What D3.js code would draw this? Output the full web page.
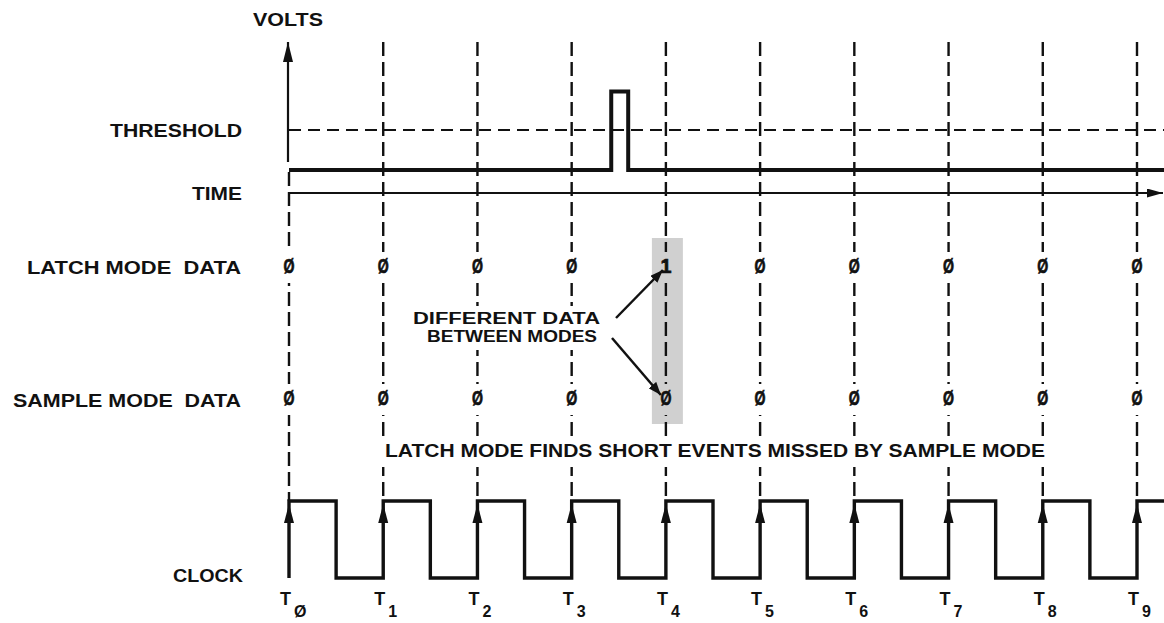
<!DOCTYPE html>
<html>
<head>
<meta charset="utf-8">
<script src="https://cdn.jsdelivr.net/npm/d3@7"></script>
<style>
  html, body { margin: 0; padding: 0; background: #fff; }
  svg { display: block; }
  text { font-family: "Liberation Sans", Arial, sans-serif; font-weight: bold; fill: #111; white-space: pre; }
</style>
</head>
<body>
<svg id="chart" width="1164" height="623"></svg>
<script>
// ---- data ----
const tickSubs = ["Ø", "1", "2", "3", "4", "5", "6", "7", "8", "9"];
const latchData = ["Ø", "Ø", "Ø", "Ø", "1", "Ø", "Ø", "Ø", "Ø", "Ø"];
const sampleData = ["Ø", "Ø", "Ø", "Ø", "Ø", "Ø", "Ø", "Ø", "Ø", "Ø"];
const highlightIndex = 4;
// input signal (time in clock periods, volts in arbitrary units)
const signalTimes = [0, 3.42, 3.42, 3.6, 3.6, 9.3];
const signalVolts = [0, 0, 2.45, 2.45, 0, 0];
const thresholdVolts = 1.25;
// clock waveform
const clockTimes = [0, 0, 0.5, 1, 1.5, 2, 2.5, 3, 3.5, 4, 4.5, 5, 5.5, 6, 6.5, 7, 7.5, 8, 8.5, 9, 9.3];
const clockLevels = [0, 1, 0, 1, 0, 1, 0, 1, 0, 1, 0, 1, 0, 1, 0, 1, 0, 1, 0, 1, 1];
const rowLabels = ["VOLTS", "THRESHOLD", "TIME", "LATCH MODE  DATA", "SAMPLE MODE  DATA", "CLOCK"];
const noteLines = ["DIFFERENT DATA", "BETWEEN MODES"];
const footNote = "LATCH MODE FINDS SHORT EVENTS MISSED BY SAMPLE MODE";

// ---- scales ----
const svg = d3.select("#chart");
const x = d3.scaleLinear().domain([0, 9]).range([289, 1137]);
const yV = d3.scaleLinear().domain([0, 4]).range([170, 42]);
const yC = d3.scaleLinear().domain([0, 1]).range([578, 501]);
const yTime = 193;
const latchY = 273, sampleY = 405;
const ink = "#111";
const shade = "#d0d0d0";

const defs = svg.append("defs");
function marker(id, len, hw) {
  defs.append("marker").attr("id", id)
    .attr("viewBox", `0 ${-hw} ${len} ${2 * hw}`)
    .attr("refX", len).attr("refY", 0)
    .attr("markerWidth", len).attr("markerHeight", 2 * hw)
    .attr("markerUnits", "userSpaceOnUse")
    .attr("orient", "auto")
    .append("path").attr("d", `M0,${-hw}L${len},0L0,${hw}Z`).attr("fill", ink);
}
marker("arrowBig", 20, 5);
marker("arrowSmall", 16, 4.5);
marker("arrowNote", 13, 5);

// highlight column
svg.append("rect")
  .attr("x", x(highlightIndex) - 14).attr("width", 31)
  .attr("y", 238).attr("height", sampleY + 19 - 238)
  .attr("fill", shade);

// vertical dashed grid lines
svg.append("g").selectAll("line").data(d3.range(10)).join("line")
  .attr("x1", d => x(d)).attr("x2", d => x(d))
  .attr("y1", d => d === 0 ? 172 : yV(4))
  .attr("y2", yC(1))
  .attr("stroke", ink).attr("stroke-width", 2.4)
  .attr("stroke-dasharray", "14,6");

// threshold
svg.append("line")
  .attr("x1", x(0)).attr("x2", 1164)
  .attr("y1", yV(thresholdVolts)).attr("y2", yV(thresholdVolts))
  .attr("stroke", ink).attr("stroke-width", 2).attr("stroke-dasharray", "12,7");

// volts axis
svg.append("line")
  .attr("x1", x(0) - 1).attr("x2", x(0) - 1)
  .attr("y1", 162).attr("y2", yV(4))
  .attr("stroke", ink).attr("stroke-width", 2.2)
  .attr("marker-end", "url(#arrowBig)");

// time axis
svg.append("line")
  .attr("x1", x(0) - 1).attr("x2", 1163)
  .attr("y1", yTime).attr("y2", yTime)
  .attr("stroke", ink).attr("stroke-width", 1.8)
  .attr("marker-end", "url(#arrowSmall)");

// signal
const sigPts = signalTimes.map((t, i) => [t, signalVolts[i]]);
svg.append("path")
  .attr("d", d3.line().x(d => x(d[0])).y(d => yV(d[1]))(sigPts))
  .attr("fill", "none").attr("stroke", ink).attr("stroke-width", 4)
  .attr("stroke-linejoin", "miter");

// clock
const clkPts = clockTimes.map((t, i) => [t, clockLevels[i]]);
svg.append("path")
  .attr("d", d3.line().curve(d3.curveStepAfter).x(d => x(d[0])).y(d => yC(d[1]))(clkPts))
  .attr("fill", "none").attr("stroke", ink).attr("stroke-width", 3.4);

// clock rising-edge arrows
svg.append("g").selectAll("path").data(d3.range(10)).join("path")
  .attr("d", d => {
    const cx = x(d), tip = yC(1) + 3;
    return `M${cx},${tip}L${cx - 5},${tip + 19}L${cx + 5},${tip + 19}Z`;
  })
  .attr("fill", ink);

// data labels with background masks
function dataRow(values, yBase) {
  const g = svg.append("g");
  g.selectAll("rect").data(values).join("rect")
    .attr("x", (d, i) => x(i) - 7).attr("width", 14)
    .attr("y", yBase - 21).attr("height", 31)
    .attr("fill", (d, i) => i === highlightIndex ? shade : "#fff");
  g.selectAll("text").data(values).join("text")
    .attr("x", (d, i) => x(i) - 5.5).attr("y", yBase)
    .attr("textLength", 11).attr("lengthAdjust", "spacingAndGlyphs")
    .attr("font-size", 20)
    .attr("stroke", ink).attr("stroke-width", 0.7)
    .text(d => d);
}
dataRow(latchData, latchY);
dataRow(sampleData, sampleY);

// annotation background + text
svg.append("rect").attr("x", 410).attr("y", 306).attr("width", 196).attr("height", 44).attr("fill", "#fff");
const noteGeo = [[413, 324, 187], [427, 342, 170]];
svg.append("g").selectAll("text").data(noteLines).join("text")
  .attr("x", (d, i) => noteGeo[i][0]).attr("y", (d, i) => noteGeo[i][1])
  .attr("textLength", (d, i) => noteGeo[i][2]).attr("lengthAdjust", "spacingAndGlyphs")
  .attr("font-size", 16).text(d => d);

// annotation arrows
svg.append("line").attr("x1", 616).attr("y1", 318).attr("x2", x(highlightIndex) - 3).attr("y2", latchY - 3)
  .attr("stroke", ink).attr("stroke-width", 2.5).attr("marker-end", "url(#arrowNote)");
svg.append("line").attr("x1", 612).attr("y1", 338).attr("x2", x(highlightIndex) - 5).attr("y2", sampleY - 10)
  .attr("stroke", ink).attr("stroke-width", 2.5).attr("marker-end", "url(#arrowNote)");

// foot note band
svg.append("rect").attr("x", 378).attr("y", 437).attr("width", 672).attr("height", 30).attr("fill", "#fff");
svg.append("text").attr("x", 385).attr("y", 457)
  .attr("textLength", 660).attr("lengthAdjust", "spacingAndGlyphs")
  .attr("font-size", 19).text(footNote);

// row labels
const labelGeo = [[253, 26, 70], [110, 137, 132], [192, 200, 50], [27, 274, 214], [13, 407, 228], [173, 582, 70]];
svg.append("g").selectAll("text").data(rowLabels).join("text")
  .attr("x", (d, i) => labelGeo[i][0]).attr("y", (d, i) => labelGeo[i][1])
  .attr("textLength", (d, i) => labelGeo[i][2]).attr("lengthAdjust", "spacingAndGlyphs")
  .attr("font-size", 19).text(d => d);

// time tick labels
const tg = svg.append("g").selectAll("g").data(tickSubs).join("g");
tg.append("text").attr("x", (d, i) => x(i) + 2).attr("y", 605)
  .attr("text-anchor", "end").attr("font-size", 18).text("T");
tg.append("text").attr("x", (d, i) => x(i) + 5).attr("y", 617)
  .attr("font-size", 16).text(d => d);
</script>
</body>
</html>
